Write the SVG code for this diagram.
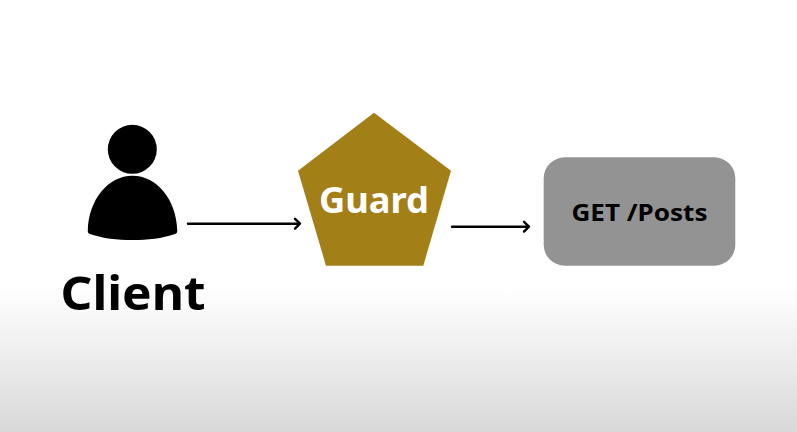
<svg xmlns="http://www.w3.org/2000/svg" width="797" height="432" viewBox="0 0 797 432">
<style>
text{font-family:"Noto Sans","Open Sans","Liberation Sans",sans-serif;font-weight:700;text-anchor:middle}
.c{fill:none;stroke:#000;stroke-width:2.4;stroke-linecap:round}
.h{fill:none;stroke:#000;stroke-width:2.4;stroke-linecap:round;stroke-linejoin:round}
</style>
<defs>
<linearGradient id="bg" x1="0" y1="0" x2="0" y2="1">
<stop offset="0" stop-color="#fff"/><stop offset="0.66" stop-color="#fff"/><stop offset="0.72" stop-color="#f9f9f9"/><stop offset="1" stop-color="#d8d8d8"/>
</linearGradient>
</defs>
<rect width="797" height="432" fill="url(#bg)"/>
<g id="connectors">
<path class="c" d="M188 223.7H299"/><path class="h" d="M295 218.8L300 223.7L295 228.6"/>
<path class="c" d="M452 226.7H528"/><path class="h" d="M524 221.8L529 226.7L524 231.6"/>
</g>
<g id="client">
<circle cx="132.3" cy="149.3" r="24.5" fill="#000"/>
<path d="M87.8 231C88.5 200 108 175.8 132.5 175.8C157 175.8 176.6 200 177.3 231C177.3 232.5 176.5 233.5 175 234C162 238.5 148 240 132.5 240C117 240 103 238.5 90 234C88.5 233.5 87.8 232.5 87.8 231Z" fill="#000"/>
<text x="133" y="309.5" font-size="47" textLength="145" lengthAdjust="spacingAndGlyphs" fill="#000">Client</text>
</g>
<g id="guard">
<polygon points="374,112.7 451,170.7 423.3,265.7 326,265.7 298,170.7" fill="#a37f18"/>
<text x="374" y="213.3" font-size="35" textLength="110" lengthAdjust="spacingAndGlyphs" fill="#fff">Guard</text>
</g>
<g id="get-posts">
<rect x="543.7" y="157.3" width="191.6" height="108.4" rx="21" fill="#939394"/>
<text x="639.5" y="220.8" font-size="24" textLength="136" lengthAdjust="spacingAndGlyphs" fill="#000">GET /Posts</text>
</g>
</svg>
